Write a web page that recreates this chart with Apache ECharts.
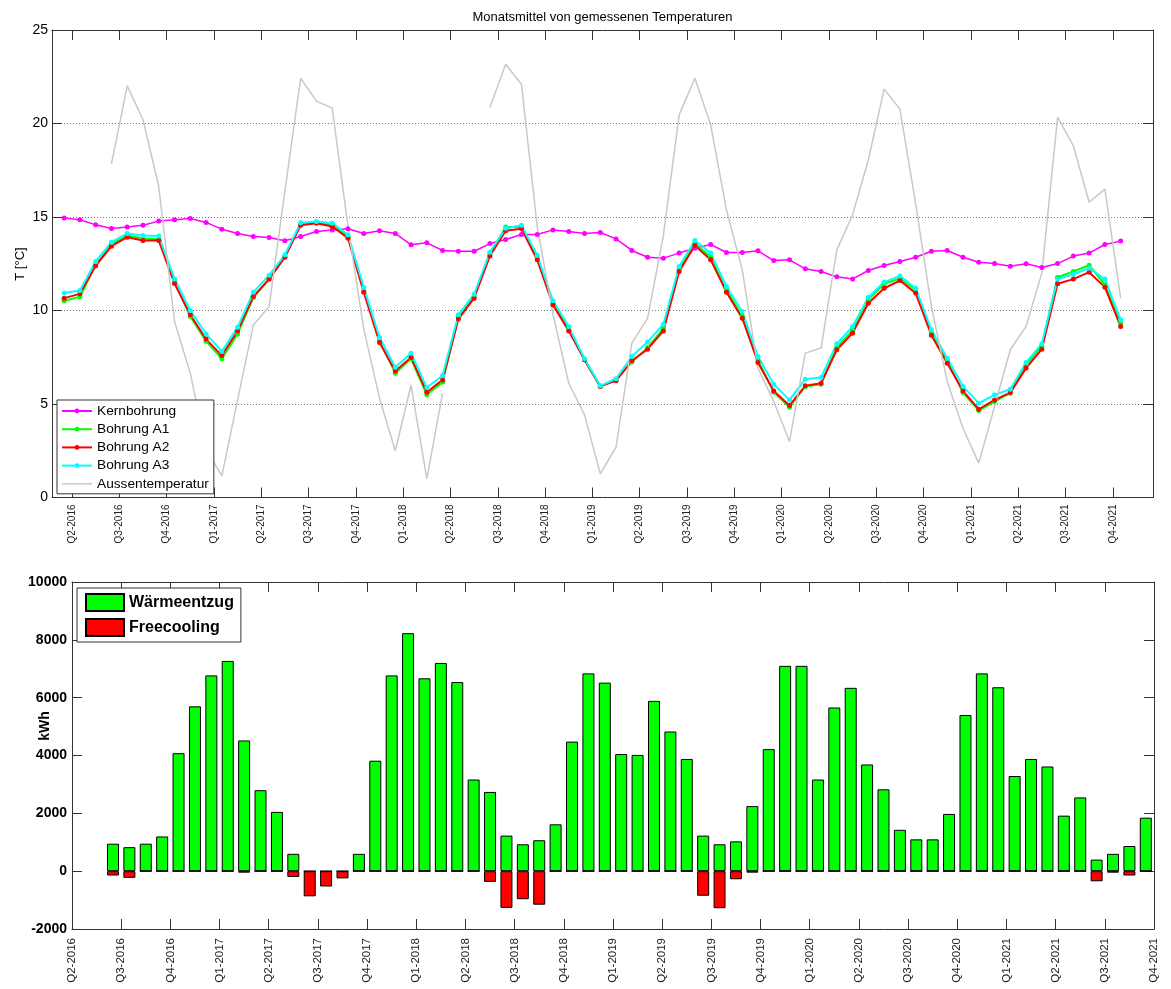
<!DOCTYPE html>
<html><head><meta charset="utf-8">
<script src="https://cdn.jsdelivr.net/npm/echarts@6/dist/echarts.min.js"></script>
<style>html,body{margin:0;padding:0;background:#fff}#c{width:1171px;height:989px}</style>
</head><body><div id="c"></div>
<script>
// ---- tick labels (quarters, one every 3 months from Apr 2016) ----
const quarterLabels = ['Q2-2016','Q3-2016','Q4-2016','Q1-2017','Q2-2017','Q3-2017','Q4-2017',
  'Q1-2018','Q2-2018','Q3-2018','Q4-2018','Q1-2019','Q2-2019','Q3-2019','Q4-2019',
  'Q1-2020','Q2-2020','Q3-2020','Q4-2020','Q1-2021','Q2-2021','Q3-2021','Q4-2021'];

// ---- temperature series: monthly means, first month = March 2016 ----
const tempStartYear = 2016, tempStartMonth = 3;
const kernbohrung = [14.94,14.85,14.58,14.39,14.46,14.56,14.78,14.85,14.92,14.71,14.35,14.12,13.96,13.90,13.73,13.96,14.22,
  14.31,14.37,14.12,14.26,14.12,13.51,13.62,13.21,13.17,13.17,13.58,13.80,14.06,14.06,14.31,14.22,14.12,14.17,
  13.83,13.21,12.85,12.80,13.07,13.33,13.53,13.10,13.10,13.19,12.67,12.71,12.23,12.09,11.80,11.69,12.14,12.41,
  12.62,12.85,13.17,13.21,12.85,12.58,12.51,12.37,12.50,12.30,12.51,12.91,13.07,13.53,13.71];
const bohrungA1 = [10.52,10.73,12.44,13.55,14.01,13.85,13.81,11.55,9.68,8.36,7.42,8.75,10.70,11.68,12.89,14.63,14.71,
  14.58,13.96,11.07,8.38,6.65,7.42,5.49,6.17,9.64,10.75,13.03,14.46,14.46,12.85,10.39,9.00,7.36,5.94,
  6.30,7.25,8.02,9.04,12.21,13.60,12.85,11.11,9.71,7.33,5.63,4.83,5.94,6.06,8.04,8.93,10.57,11.43,
  11.71,11.11,8.79,7.33,5.61,4.65,5.13,5.58,7.09,8.11,11.78,12.09,12.42,11.37,9.32];
const bohrungA2 = [10.66,10.89,12.39,13.44,13.92,13.74,13.74,11.44,9.77,8.47,7.59,8.91,10.75,11.68,12.85,14.56,14.67,
  14.49,13.87,10.98,8.29,6.77,7.49,5.63,6.29,9.54,10.66,12.92,14.26,14.37,12.71,10.30,8.91,7.36,5.94,
  6.25,7.31,7.93,8.91,12.09,13.48,12.71,10.98,9.59,7.22,5.70,4.92,5.97,6.11,7.90,8.79,10.39,11.19,
  11.60,10.93,8.67,7.18,5.70,4.72,5.22,5.61,6.92,7.93,11.43,11.68,12.05,11.25,9.14];
const bohrungA3 = [10.93,11.07,12.62,13.65,14.12,14.01,13.99,11.69,10.00,8.75,7.81,9.11,10.98,11.89,12.98,14.69,14.76,
  14.67,14.05,11.25,8.56,6.97,7.72,5.88,6.52,9.77,10.87,13.12,14.40,14.56,12.96,10.52,9.14,7.42,5.97,
  6.35,7.54,8.31,9.27,12.35,13.74,13.07,11.28,9.95,7.54,6.06,5.22,6.33,6.42,8.22,9.14,10.71,11.52,
  11.85,11.19,8.97,7.45,5.94,5.04,5.49,5.79,7.22,8.22,11.68,11.94,12.26,11.68,9.50];
const aussentemperatur = [null,null,null,17.84,22.01,20.2,16.63,9.41,6.65,2.6,1.16,5.22,9.23,10.21,16.4,22.42,21.2,
  20.82,14.5,9.0,5.31,2.5,6.0,1.0,5.58,null,null,20.86,23.17,22.1,14.5,9.8,6.11,4.42,1.27,
  2.69,8.25,9.59,14.0,20.46,22.42,19.93,15.38,12.17,6.92,5.13,2.99,7.72,7.99,13.24,15.12,18.06,21.84,
  20.77,15.7,10.2,6.2,3.7,1.84,4.87,7.9,9.15,12.0,20.34,18.81,15.79,16.49,10.66];

// ---- energy series (kWh per month), first month = June 2016 ----
const energyStartYear = 2016, energyStartMonth = 6;
const waermeentzug = [950,830,950,1200,4080,5700,6770,7270,4520,2800,2050,600,0,0,0,600,3820,6770,8230,6670,
  7200,6540,3170,2740,1230,930,1070,1620,4480,6840,6520,4050,4020,5890,4830,3880,1230,930,1030,2250,
  4220,7100,7100,3170,5660,6340,3690,2830,1430,1100,1100,1980,5400,6840,6360,3290,3880,3620,1920,2550,
  400,600,870,1850];
const freecooling = [-150,-230,0,0,0,0,0,0,-50,0,0,-200,-870,-530,-250,0,0,0,0,0,
  0,0,0,-370,-1270,-970,-1160,0,0,0,0,0,0,0,0,0,-850,-1280,-280,-50,
  0,0,0,0,0,0,0,0,0,0,0,0,0,0,0,0,0,0,0,0,
  -350,-50,-150,0];

// months since 1 April 2016, placed at mid-month
function monthPos(y, m, i) { return (y - 2016) * 12 + (m - 4) + i + 0.5; }
function pairs(arr, y, m) { return arr.map((v, i) => [monthPos(y, m, i), v == null ? '-' : v]); }

const FONT = 'Liberation Sans, Arial, Helvetica, sans-serif';
const AX = '#333';
const qTicks = quarterLabels.map((_, i) => i * 3);
const qFmt = v => quarterLabels[Math.round(v / 3)] || '';
const plain = v => String(v);

const chart = echarts.init(document.getElementById('c'), null, {renderer: 'canvas'});
const lineSeries = (name, data, color, width, sym) => ({
  name, type: 'line', xAxisIndex: 0, yAxisIndex: 0,
  data: pairs(data, tempStartYear, tempStartMonth),
  symbol: sym ? 'circle' : 'none', symbolSize: 5, showSymbol: sym,
  connectNulls: false,
  lineStyle: {color, width}, itemStyle: {color},
  emphasis: {disabled: true}
});
const axisBase = {axisLine: {show: true, onZero: false, lineStyle: {color: AX}},
  axisTick: {show: true, inside: true, length: 10, lineStyle: {color: AX}}};

chart.setOption({
  animation: false,
  textStyle: {fontFamily: FONT},
  graphic: [
    {type: 'text', x: 602.5, y: 17, style: {text: 'Monatsmittel von gemessenen Temperaturen', align: 'center', verticalAlign: 'middle', font: '13px ' + FONT, fill: '#000'}},
    {type: 'text', x: 20, y: 264, rotation: Math.PI / 2, style: {text: 'T [°C]', align: 'center', verticalAlign: 'middle', font: '13px ' + FONT, fill: '#000'}},
    {type: 'text', x: 45, y: 726, rotation: Math.PI / 2, style: {text: 'kWh', align: 'center', verticalAlign: 'middle', font: 'bold 14px ' + FONT, fill: '#000'}}
  ],
  grid: [
    {left: 52, right: 18, top: 30, height: 467.5},
    {left: 72, right: 17, top: 582, height: 347}
  ],
  legend: [
    {orient: 'vertical', left: 57, top: 400, padding: [4, 5, 3, 4], itemWidth: 30, itemHeight: 6, itemGap: 4.2,
     backgroundColor: '#fff', borderColor: AX, borderWidth: 1, borderRadius: 0,
     textStyle: {fontSize: 13.7, lineHeight: 14, color: '#000', fontFamily: FONT},
     data: ['Kernbohrung', 'Bohrung A1', 'Bohrung A2', 'Bohrung A3',
            {name: 'Aussentemperatur', icon: 'path://M0,0H40V2H0Z'}]},
    {orient: 'vertical', left: 77, top: 588, padding: [5, 7, 5, 8], itemWidth: 38, itemHeight: 17, itemGap: 6,
     backgroundColor: '#fff', borderColor: AX, borderWidth: 1, borderRadius: 0, icon: 'rect',
     textStyle: {fontSize: 16, fontWeight: 'bold', lineHeight: 17, color: '#000', fontFamily: FONT},
     data: ['Wärmeentzug', 'Freecooling']}
  ],
  xAxis: [
    Object.assign({gridIndex: 0, type: 'value', min: -1.27, max: 68.55, splitLine: {show: false},
     axisLabel: {show: true, customValues: qTicks, rotate: 90, fontSize: 10, margin: 7, color: '#222', formatter: qFmt}}, axisBase,
     {axisTick: {show: true, inside: true, length: 10, customValues: qTicks, lineStyle: {color: AX}}}),
    Object.assign({gridIndex: 0, type: 'value', position: 'top', min: -1.27, max: 68.55, splitLine: {show: false},
     axisLabel: {show: false}}, axisBase,
     {axisTick: {show: true, inside: true, length: 10, customValues: qTicks, lineStyle: {color: AX}}}),
    Object.assign({gridIndex: 1, type: 'value', min: 0, max: 66, interval: 3, splitLine: {show: false},
     axisLabel: {show: true, rotate: 90, fontSize: 11.5, margin: 9, color: '#222', formatter: qFmt, showMinLabel: true, showMaxLabel: true}}, axisBase),
    Object.assign({gridIndex: 1, type: 'value', position: 'top', min: 0, max: 66, interval: 3, splitLine: {show: false},
     axisLabel: {show: false}}, axisBase)
  ],
  yAxis: [
    Object.assign({gridIndex: 0, type: 'value', min: 0, max: 25, interval: 5,
     axisLabel: {fontSize: 14, color: '#000', margin: 4, formatter: plain},
     splitLine: {show: true, lineStyle: {color: '#777', type: [1, 2], width: 1}}}, axisBase),
    Object.assign({gridIndex: 0, type: 'value', position: 'right', min: 0, max: 25, interval: 5,
     axisLabel: {show: false}, splitLine: {show: false}}, axisBase),
    Object.assign({gridIndex: 1, type: 'value', min: -2000, max: 10000, interval: 2000,
     axisLabel: {fontSize: 14, fontWeight: 'bold', color: '#000', margin: 5, formatter: plain},
     splitLine: {show: false}}, axisBase),
    Object.assign({gridIndex: 1, type: 'value', position: 'right', min: -2000, max: 10000, interval: 2000,
     axisLabel: {show: false}, splitLine: {show: false}}, axisBase)
  ],
  series: [
    lineSeries('Kernbohrung', kernbohrung, '#ff00ff', 1.5, true),
    lineSeries('Bohrung A1', bohrungA1, '#00ff00', 2, true),
    lineSeries('Bohrung A2', bohrungA2, '#ff0000', 2, true),
    lineSeries('Bohrung A3', bohrungA3, '#00ffff', 2, true),
    lineSeries('Aussentemperatur', aussentemperatur, '#c8c8c8', 1.5, false),
    {name: 'Wärmeentzug', type: 'bar', xAxisIndex: 2, yAxisIndex: 2, barWidth: 12, barGap: '-100%',
     data: pairs(waermeentzug, energyStartYear, energyStartMonth),
     itemStyle: {color: '#00ff00', borderColor: '#000', borderWidth: 1}, emphasis: {disabled: true}},
    {name: 'Freecooling', type: 'bar', xAxisIndex: 2, yAxisIndex: 2, barWidth: 12, barGap: '-100%',
     data: pairs(freecooling, energyStartYear, energyStartMonth),
     itemStyle: {color: '#ff0000', borderColor: '#000', borderWidth: 1}, emphasis: {disabled: true}}
  ]
});
</script></body></html>
